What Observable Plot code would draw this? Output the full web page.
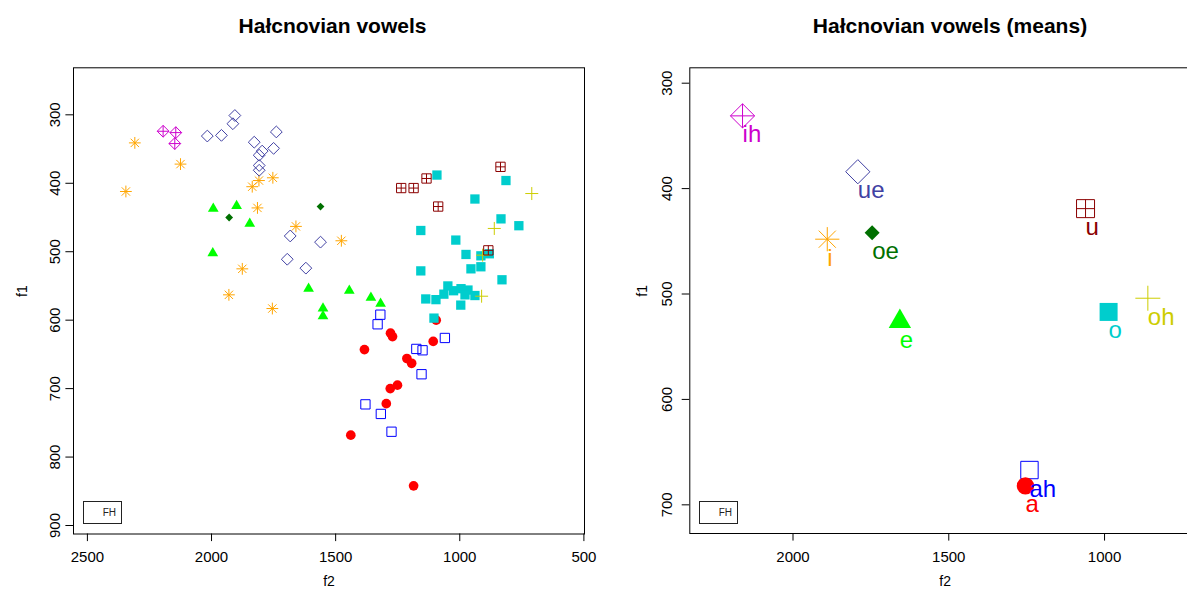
<!DOCTYPE html>
<html>
<head>
<meta charset="utf-8">
<script src="https://cdn.jsdelivr.net/npm/d3@7"></script>
<script src="https://cdn.jsdelivr.net/npm/@observablehq/plot@0.6"></script>
<style>
html, body { margin: 0; padding: 0; background: #fff; overflow: hidden; }
#wrap { position: relative; width: 1187px; height: 594px; overflow: hidden; background: #fff;
  font-family: "Liberation Sans", Arial, Helvetica, sans-serif; color: #000; }
.title { position: absolute; top: 15px; font-weight: bold; font-size: 21px; line-height: 21px;
  text-align: center; white-space: nowrap; }
.panel { position: absolute; top: 45px; }
.panel svg { max-width: none !important; display: block; }
.legend { position: absolute; border: 1px solid #222; box-sizing: border-box; font-size: 10px;
  line-height: 21px; text-align: right; padding-right: 5px; color: #222; }
</style>
</head>
<body>
<div id="wrap">
  <div class="title" style="left:0;width:665px">Hałcnovian vowels</div>
  <div class="title" style="left:620px;width:660px">Hałcnovian vowels (means)</div>
  <div class="panel" id="left" style="left:0;width:620px;height:549px"></div>
  <div class="panel" id="right" style="left:620px;width:600px;height:549px"></div>
  <div class="legend" id="legL" style="left:83px;top:501px;width:39px;height:23px"></div>
  <div class="legend" id="legR" style="left:699px;top:501px;width:39px;height:23px"></div>
</div>
<script>
// ---------------- data ----------------
const f2_ih = [2195, 2144, 2148];
const f1_ih = [324, 326, 342];
const f2_ue = [1906, 1914, 2017, 1960, 1739, 1828, 1796, 1808, 1750, 1808, 1808, 1683, 1561, 1695, 1620];
const f1_ue = [301, 313, 331, 330, 325, 340, 353, 359, 349, 374, 381, 477, 486, 511, 524];
const f2_i = [2309, 2125, 2345, 1836, 1809, 1753, 1815, 1660, 1876, 1930, 1755, 1477];
const f1_i = [341, 372, 412, 405, 396, 392, 436, 463, 525, 563, 583, 484];
const f2_oe = [1929, 1561];
const f1_oe = [450, 434];
const f2_e = [1993, 1899, 1846, 1995, 1609, 1551, 1551, 1445, 1358, 1319];
const f1_e = [437, 433, 459, 502, 554, 583, 594, 557, 567, 576];
const f2_o = [1092, 814, 939, 834, 762, 1157, 1016, 975, 915, 881, 955, 915, 1157, 830, 1048, 1025, 995, 967, 1064, 979, 939, 1137, 1096, 996, 1104];
const f1_o = [388, 396, 423, 452, 462, 469, 483, 504, 506, 503, 525, 522, 528, 541, 550, 557, 554, 556, 562, 563, 564, 569, 570, 578, 597];
const f2_oh = [710, 861, 908, 912];
const f1_oh = [415, 466, 505, 565];
const f2_u = [836, 1134, 1236, 1186, 1087, 885];
const f1_u = [376, 393, 407, 407, 434, 498];
const f2_ah = [1320, 1331, 1060, 1175, 1150, 1154, 1380, 1318, 1275];
const f1_ah = [592, 606, 626, 642, 644, 679, 723, 737, 763];
const f2_a = [1095, 1279, 1271, 1384, 1107, 1213, 1194, 1251, 1280, 1296, 1439, 1186];
const f1_a = [600, 619, 624, 643, 631, 656, 663, 695, 700, 722, 768, 842];

const meanVowels = ["ih", "ue", "i", "oe", "e", "o", "oh", "u", "ah", "a"];
const meanF2 = [2162, 1792, 1890, 1746, 1657, 987, 861, 1061, 1241, 1254];
const meanF1 = [331, 384, 448, 442, 526, 517, 504, 419, 667, 682];

const xTicksLeft = [2500, 2000, 1500, 1000, 500];
const yTicksLeft = [300, 400, 500, 600, 700, 800, 900];
const xTicksRight = [2000, 1500, 1000];
const yTicksRight = [300, 400, 500, 600, 700];
const titleLeft = "Hałcnovian vowels";
const titleRight = "Hałcnovian vowels (means)";
const xLabel = "f2";
const yLabel = "f1";
const legendLabel = "FH";

// ---------------- symbols (R pch look-alikes) ----------------
function sym(fn) { return { draw(c, size) { fn(c, Math.sqrt(size / Math.PI)); } }; }
function sq(c, r) { c.moveTo(-r, -r); c.lineTo(r, -r); c.lineTo(r, r); c.lineTo(-r, r); c.closePath(); }
function dia(c, r) { c.moveTo(0, -r); c.lineTo(r, 0); c.lineTo(0, r); c.lineTo(-r, 0); c.closePath(); }
function plus(c, r) { c.moveTo(-r, 0); c.lineTo(r, 0); c.moveTo(0, -r); c.lineTo(0, r); }
const SQUARE = sym(sq);
const SQUARE_PLUS = sym((c, r) => { sq(c, r); plus(c, r); });
const DIAMOND = sym(dia);
const DIAMOND_PLUS = sym((c, r) => { dia(c, r); plus(c, r); });
const PLUS = sym(plus);
const ASTERISK = sym((c, r) => {
  plus(c, r);
  const d = r * Math.SQRT1_2;
  c.moveTo(-d, -d); c.lineTo(d, d); c.moveTo(-d, d); c.lineTo(d, -d);
});
const TRIANGLE = sym((c, r) => {
  c.moveTo(0, -1.1547 * r); c.lineTo(r, 0.5774 * r); c.lineTo(-r, 0.5774 * r); c.closePath();
});

const vstyle = {
  ih: {color: "#CD00CD", symbol: DIAMOND_PLUS, filled: false, r: [5.9, 12.1]},
  ue: {color: "#4141A3", symbol: DIAMOND, filled: false, r: [5.9, 12.1]},
  i:  {color: "#FFA500", symbol: ASTERISK, filled: false, r: [5.9, 12.1]},
  oe: {color: "#007000", symbol: DIAMOND, filled: true, r: [3.9, 7.5]},
  e:  {color: "#00FF00", symbol: TRIANGLE, filled: true, r: [5.35, 11.2]},
  o:  {color: "#00CDCD", symbol: SQUARE, filled: true, r: [4.65, 9]},
  oh: {color: "#CDCD00", symbol: PLUS, filled: false, r: [6.5, 12.5]},
  u:  {color: "#8B0000", symbol: SQUARE_PLUS, filled: false, r: [4.65, 9]},
  ah: {color: "#0000FF", symbol: SQUARE, filled: false, r: [4.65, 8.7]},
  a:  {color: "#FF0000", symbol: "circle", filled: true, r: [4.85, 8.7]}
};

const tokens = {
  ih: d3.zip(f2_ih, f1_ih), ue: d3.zip(f2_ue, f1_ue), i: d3.zip(f2_i, f1_i),
  oe: d3.zip(f2_oe, f1_oe), e: d3.zip(f2_e, f1_e), o: d3.zip(f2_o, f1_o),
  oh: d3.zip(f2_oh, f1_oh), u: d3.zip(f2_u, f1_u), ah: d3.zip(f2_ah, f1_ah), a: d3.zip(f2_a, f1_a)
};
const means = meanVowels.map((v, k) => ({v, f2: meanF2[k], f1: meanF1[k]}));

function dotMark(data, v, which) {
  const s = vstyle[v];
  return Plot.dot(data, {
    x: d => d[0], y: d => d[1],
    symbol: s.symbol, r: s.r[which],
    fill: s.filled ? s.color : "none",
    stroke: s.filled ? "none" : s.color,
    strokeWidth: 1
  });
}

const FONT = '"Liberation Sans", Arial, Helvetica, sans-serif';
const baseStyle = {fontFamily: FONT, fontSize: "15px", color: "#000", background: "transparent", overflow: "visible", maxWidth: "none"};
const fmt = d => String(d);

// ---------------- left panel ----------------
const leftOrder = ["a", "ah", "e", "i", "ih", "oe", "ue", "o", "oh", "u"];
const leftPlot = Plot.plot({
  width: 620, height: 549,
  marginLeft: 73, marginRight: 36, marginTop: 22.3, marginBottom: 60.5,
  x: {domain: [2556, 497.6]},
  y: {domain: [912.4, 231.3]},
  style: baseStyle,
  marks: [
    Plot.frame({stroke: "#000", strokeWidth: 1}),
    Plot.axisX({ticks: xTicksLeft, tickSize: 7.6, tickPadding: 10, tickFormat: fmt, label: null, fontSize: 15}),
    Plot.axisY({ticks: yTicksLeft, tickSize: 7.6, tickPadding: 5.8, tickRotate: -90, tickFormat: fmt, label: null, fontSize: 15}),
    ...leftOrder.map(v => dotMark(tokens[v], v, 0)),
    Plot.text([xLabel], {frameAnchor: "bottom", dy: 52, text: d => d, fontSize: 14}),
    Plot.text([yLabel], {frameAnchor: "left", dx: -51.3, dy: -4, rotate: -90, text: d => d, fontSize: 14})
  ]
});
document.getElementById("left").appendChild(leftPlot);

// ---------------- right panel ----------------
const rightPlot = Plot.plot({
  width: 600, height: 549,
  marginLeft: 69.3, marginRight: 20, marginTop: 22.3, marginBottom: 61,
  x: {domain: [2331.3, 692]},
  y: {domain: [727.2, 285.4]},
  color: {type: "identity"},
  style: baseStyle,
  marks: [
    Plot.frame({stroke: "#000", strokeWidth: 1}),
    Plot.axisX({ticks: xTicksRight, tickSize: 7.6, tickPadding: 10, tickFormat: fmt, label: null, fontSize: 15}),
    Plot.axisY({ticks: yTicksRight, tickSize: 7.6, tickPadding: 10.7, tickRotate: -90, tickFormat: fmt, label: null, fontSize: 15}),
    ...means.map(m => dotMark([[m.f2, m.f1]], m.v, 1)),
    Plot.text(means, {x: "f2", y: "f1", text: "v", fill: d => vstyle[d.v].color,
      textAnchor: "start", lineAnchor: "bottom", dy: 26.5, fontSize: 24}),
    Plot.text([xLabel], {frameAnchor: "bottom", dy: 52, text: d => d, fontSize: 14}),
    Plot.text([yLabel], {frameAnchor: "left", dx: -47.6, dy: -4, rotate: -90, text: d => d, fontSize: 14})
  ]
});
document.getElementById("right").appendChild(rightPlot);

document.getElementById("legL").textContent = legendLabel;
document.getElementById("legR").textContent = legendLabel;
document.querySelectorAll(".title")[0].textContent = titleLeft;
document.querySelectorAll(".title")[1].textContent = titleRight;
</script>
</body>
</html>
